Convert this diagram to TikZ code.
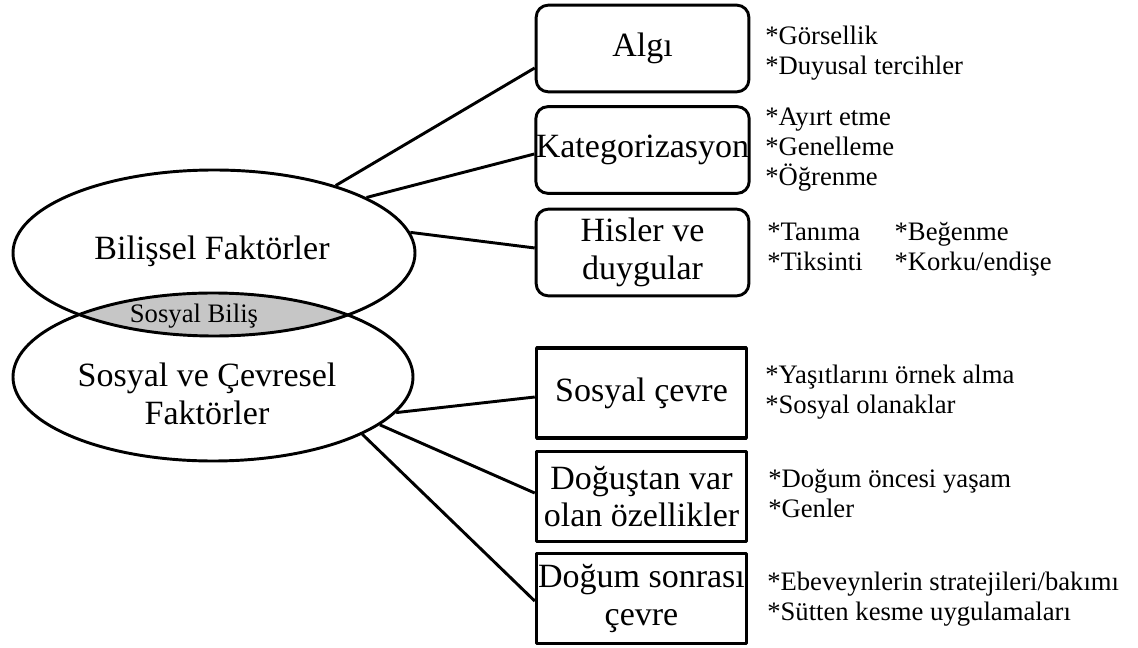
\documentclass[tikz,border=0pt]{standalone}
\usepackage{fontspec}
\setmainfont{Liberation Serif}
\usetikzlibrary{shapes.geometric}
\definecolor{lensgray}{RGB}{198,198,198}

\begin{document}
\begin{tikzpicture}[x=0.75pt,y=-0.75pt,line join=bevel,
  bigtext/.style={font=\fontsize{25.5}{28}\selectfont,align=center},
  smalltext/.style={font=\fontsize{20}{22.5}\selectfont,align=left,anchor=west,inner sep=0pt},
  oval/.style={draw,ellipse,line width=2.2pt,inner sep=0pt},
  roundbox/.style={draw,rounded corners=9pt,line width=2.2pt,minimum width=159.5pt,minimum height=65pt,inner sep=0pt,bigtext},
  squarebox/.style={draw,line width=2.6pt,minimum width=157.5pt,minimum height=67.5pt,inner sep=0pt,bigtext},
  link/.style={black,line width=2.2pt}]

 \useasboundingbox (0,0) rectangle (1138,648);

 % grey overlap of the two ellipses
 \begin{scope}
  \clip (214,253) ellipse [x radius=150.75pt, y radius=62.25pt];
  \fill [lensgray] (213,377) ellipse [x radius=150pt, y radius=63pt];
 \end{scope}

 \node (node_bilissel) at (214,253) [oval,minimum width=301.5pt,minimum height=124.5pt] {};
 \node (node_sosyal) at (213,377) [oval,minimum width=300pt,minimum height=126pt] {};
 \node (node_bilissel_text) at (212,251) [bigtext] {Bilişsel Faktörler};
 \node (node_sosyal_text) at (207,394) [bigtext] {Sosyal ve Çevresel\\Faktörler};
 \node (node_bilis) at (194,316) [font=\fontsize{20}{22.5}\selectfont] {Sosyal Biliş};

 \node (node_algi) at (642.5,48.5) [roundbox] {Algı};
 \node (node_kategori) at (642.5,150) [roundbox] {Kategorizasyon};
 \node (node_hisler) at (642.5,252.5) [roundbox] {Hisler ve\\duygular};
 \node (node_cevre) at (641.5,393) [squarebox] {Sosyal çevre};
 \node (node_dogustan) at (641.5,496.5) [squarebox] {Doğuştan var\\olan özellikler};
 \node (node_dogum) at (641.5,598.5) [squarebox] {Doğum sonrası\\çevre};

 \node (node_algi_list) at (765,53.5) [smalltext] {*Görsellik\\{}*Duyusal tercihler};
 \node (node_kategori_list) at (765,150) [smalltext] {*Ayırt etme\\{}*Genelleme\\{}*Öğrenme};
 \node (node_hisler_list) at (767,250) [smalltext] {\begin{tabular}{@{}l@{\hspace{24pt}}l@{}}*Tanıma & *Beğenme\\{}*Tiksinti & *Korku/endişe\end{tabular}};
 \node (node_cevre_list) at (765,392) [smalltext] {*Yaşıtlarını örnek alma\\{}*Sosyal olanaklar};
 \node (node_dogustan_list) at (768,494) [smalltext] {*Doğum öncesi yaşam\\{}*Genler};
 \node (node_dogum_list) at (767,599) [smalltext] {*Ebeveynlerin stratejileri/bakımı\\{}*Sütten kesme uygulamaları};

  \draw [link] (node_bilissel.29) edge ([yshift=-14.6pt]node_algi.west);
  \draw [link] (node_bilissel.20) edge ([yshift=-3pt]node_kategori.west);
  \draw [link] (node_bilissel.6) edge ([yshift=3.4pt]node_hisler.west);
  \draw [link] (node_sosyal.-11) edge ([yshift=-3pt]node_cevre.west);
  \draw [link] (node_sosyal.-16) edge ([yshift=2.6pt]node_dogustan.west);
  \draw [link] (node_sosyal.-21) edge ([yshift=-1.9pt]node_dogum.west);

\end{tikzpicture}
\end{document}
